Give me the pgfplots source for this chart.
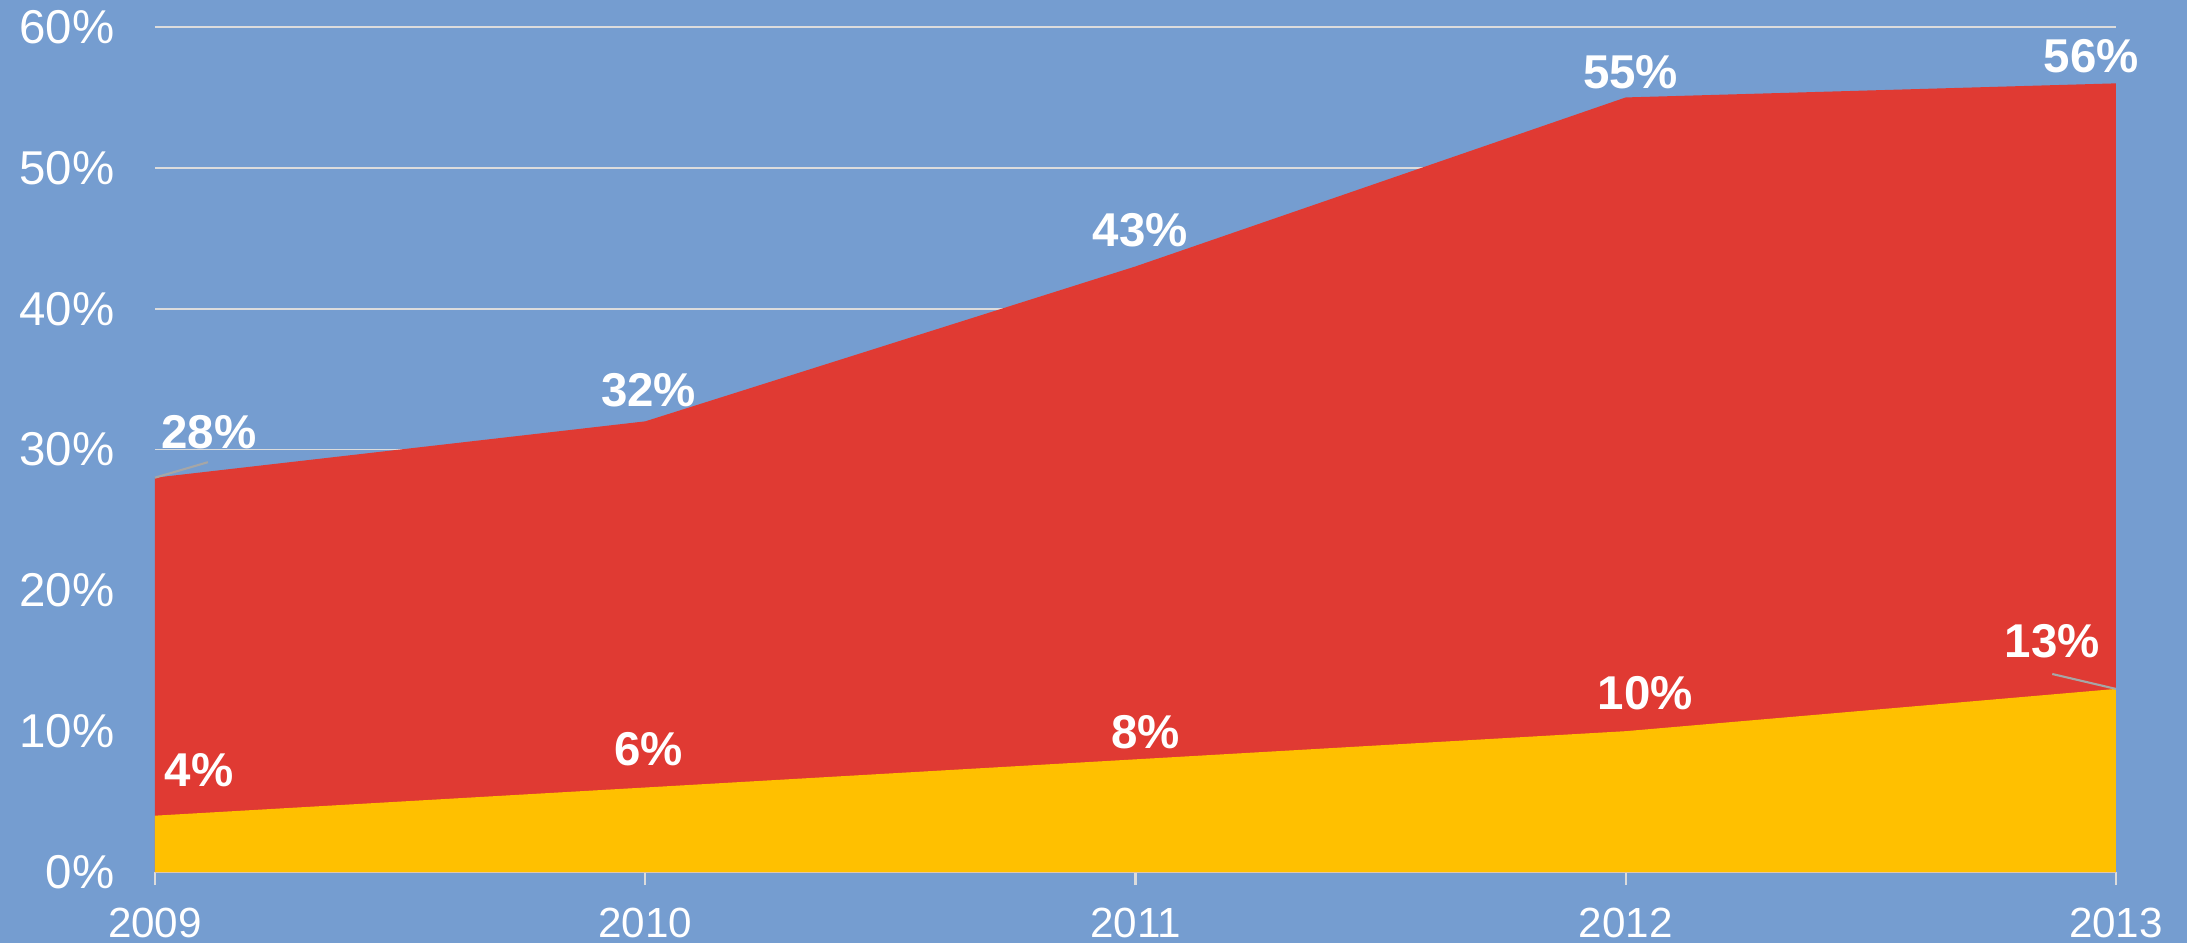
\documentclass[border=0pt]{standalone}
\usepackage{pgfplots}
\pgfplotsset{compat=1.18}
\usepackage{fontspec}
\setmainfont{Liberation Sans}
\definecolor{bgblue}{HTML}{759DD0}
\definecolor{areared}{HTML}{E03A33}
\definecolor{areayellow}{HTML}{FFC000}
\definecolor{gridgray}{HTML}{DCDCDC}
\definecolor{leadergray}{HTML}{A6A6A6}
\tikzset{labl/.style={font=\bfseries\fontsize{13.5}{15}\selectfont, text=white, inner sep=0pt}}
\begin{document}
\begin{tikzpicture}
\useasboundingbox (-15.5mm,-7.1mm) rectangle (203.2mm,87.2mm);
\fill[bgblue] (-15.5mm,-7.1mm) rectangle (203.2mm,87.2mm);
\begin{axis}[
  at={(0,0)}, anchor=south west,
  scale only axis, width=196.1mm, height=84.5mm,
  xmin=2009, xmax=2013, ymin=0, ymax=60,
  clip=false,
  axis x line*=bottom, axis y line*=left,
  y axis line style={draw=none},
  x axis line style={gridgray, line width=0.6pt},
  xtick={2009,2010,2011,2012,2013},
  xticklabels={2009,2010,2011,2012,2013},
  ytick={0,10,20,30,40,50,60},
  yticklabels={0\%,10\%,20\%,30\%,40\%,50\%,60\%},
  ytick style={draw=none},
  xtick style={gridgray, line width=0.6pt},
  tick align=outside, major tick length=1.3mm,
  xticklabel style={font=\fontsize{12}{14}\selectfont, text=white, inner sep=0pt, anchor=north, yshift=-2.2mm},
  yticklabel style={font=\fontsize{13.5}{15}\selectfont, text=white, inner sep=0pt, anchor=east, xshift=-2.7mm},
  ymajorgrids, grid style={gridgray, line width=0.55pt},
]
\addplot[draw=none, fill=areared] coordinates {(2009,28)(2010,32)(2011,43)(2012,55)(2013,56)} \closedcycle;
\addplot[draw=none, fill=areayellow] coordinates {(2009,4)(2010,6)(2011,8)(2012,10)(2013,13)} \closedcycle;
\draw[leadergray, line width=0.6pt] (axis cs:2009,28) -- (axis cs:2009.108,29.1);
\draw[leadergray, line width=0.6pt] (axis cs:2013,13) -- (axis cs:2012.87,14.06);
\node[labl] at (axis cs:2009.11,31.2) {28\%};
\node[labl] at (axis cs:2010.007,34.2) {32\%};
\node[labl] at (axis cs:2011.01,45.6) {43\%};
\node[labl] at (axis cs:2012.01,56.8) {55\%};
\node[labl] at (axis cs:2012.95,57.95) {56\%};
\node[labl] at (axis cs:2009.09,7.2) {4\%};
\node[labl] at (axis cs:2010.007,8.7) {6\%};
\node[labl] at (axis cs:2011.02,9.9) {8\%};
\node[labl] at (axis cs:2012.04,12.7) {10\%};
\node[labl] at (axis cs:2012.87,16.4) {13\%};
\end{axis}
\end{tikzpicture}
\end{document}
